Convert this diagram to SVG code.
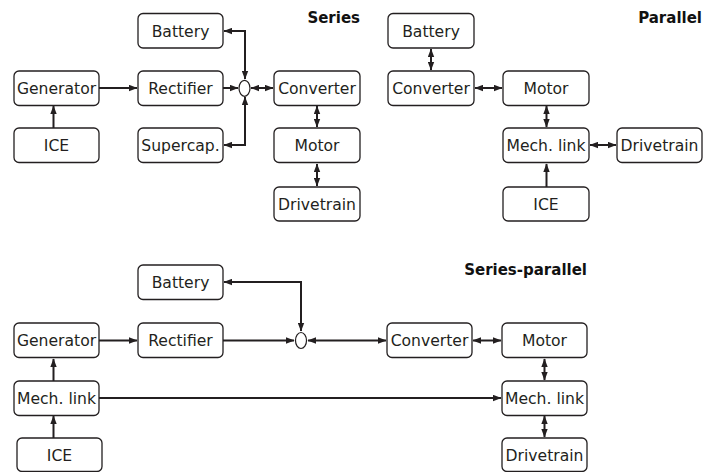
<svg xmlns="http://www.w3.org/2000/svg" width="703" height="472" viewBox="0 0 703 472">
<defs>
<marker id="ah" markerUnits="userSpaceOnUse" markerWidth="9" markerHeight="7" refX="8" refY="3.5" orient="auto-start-reverse" viewBox="0 0 9 7">
<path d="M0,0.3 L8.5,3.5 L0,6.7 z" fill="#231f20"/>
</marker>
<style>
.box{fill:#fff;stroke:#231f20;stroke-width:1.3}
.lbl{font-family:"DejaVu Sans",Verdana,sans-serif;font-size:15.6px;fill:#231f20;text-anchor:middle}
.ttl{font-family:"DejaVu Sans",Verdana,sans-serif;font-size:15px;font-weight:bold;fill:#111;text-anchor:end}
.c{fill:none;stroke:#231f20;stroke-width:2}
.one{marker-end:url(#ah)}
.two{marker-start:url(#ah);marker-end:url(#ah)}
.jn{fill:#fff;stroke:#231f20;stroke-width:1.2}
</style>
</defs>
<rect width="703" height="472" fill="#fff"/>

<text class="ttl" x="360" y="23">Series</text>
<text class="ttl" x="702" y="23">Parallel</text>
<text class="ttl" x="587" y="275">Series-parallel</text>

<g id="connectors">
<!-- Series -->
<path class="c one" d="M53.5,128 V106"/>
<path class="c one" d="M99,88 H137"/>
<path class="c one" d="M223,88 H238"/>
<path class="c two" d="M224,31 H245 V79"/>
<path class="c two" d="M224,145 H245 V97"/>
<path class="c two" d="M251,88 H273"/>
<path class="c two" d="M317,106 V127"/>
<path class="c two" d="M317,164 V186"/>
<!-- Parallel -->
<path class="c two" d="M431,49 V70"/>
<path class="c two" d="M475,88 H502"/>
<path class="c two" d="M546.5,106 V127"/>
<path class="c two" d="M590,145 H616"/>
<path class="c one" d="M546.5,187 V164"/>
<!-- Series-parallel -->
<path class="c two" d="M224,282 H301 V331"/>
<path class="c one" d="M99,340.5 H137"/>
<path class="c one" d="M223,340.5 H294"/>
<path class="c two" d="M308,340.5 H386"/>
<path class="c two" d="M473,340.5 H501"/>
<path class="c two" d="M544.5,359 V380"/>
<path class="c one" d="M99,398 H501"/>
<path class="c one" d="M53.5,381 V359"/>
<path class="c one" d="M53.5,438 V416"/>
<path class="c two" d="M544.5,416 V437"/>
</g>

<!-- Series nodes -->
<g id="s-battery"><rect class="box" x="138" y="13.5" width="85" height="34.5" rx="5"/><text class="lbl" x="180.5" y="36.5">Battery</text></g>
<g id="s-generator"><rect class="box" x="14" y="71" width="85" height="34.5" rx="5"/><text class="lbl" x="56.5" y="94">Generator</text></g>
<g id="s-rectifier"><rect class="box" x="138" y="71" width="85" height="34.5" rx="5"/><text class="lbl" x="180.5" y="94">Rectifier</text></g>
<g id="s-supercap"><rect class="box" x="138" y="128" width="85" height="34.5" rx="5"/><text class="lbl" x="180.5" y="151">Supercap.</text></g>
<g id="s-ice"><rect class="box" x="14" y="128" width="85" height="34.5" rx="5"/><text class="lbl" x="56.5" y="151">ICE</text></g>
<g id="s-junction"><ellipse class="jn" cx="244.5" cy="88.3" rx="5.5" ry="8"/></g>
<g id="s-converter"><rect class="box" x="274" y="71" width="86" height="34.5" rx="5"/><text class="lbl" x="317" y="94">Converter</text></g>
<g id="s-motor"><rect class="box" x="274" y="128" width="86" height="34.5" rx="5"/><text class="lbl" x="317" y="151">Motor</text></g>
<g id="s-drivetrain"><rect class="box" x="274" y="187" width="86" height="34" rx="5"/><text class="lbl" x="317" y="209.5">Drivetrain</text></g>

<!-- Parallel nodes -->
<g id="p-battery"><rect class="box" x="388" y="13.5" width="86" height="34.5" rx="5"/><text class="lbl" x="431" y="36.5">Battery</text></g>
<g id="p-converter"><rect class="box" x="388" y="71" width="86" height="34.5" rx="5"/><text class="lbl" x="431" y="94">Converter</text></g>
<g id="p-motor"><rect class="box" x="503" y="71" width="86" height="34.5" rx="5"/><text class="lbl" x="546" y="94">Motor</text></g>
<g id="p-mechlink"><rect class="box" x="503" y="128" width="86" height="34.5" rx="5"/><text class="lbl" x="546" y="151">Mech. link</text></g>
<g id="p-drivetrain"><rect class="box" x="617" y="128" width="85" height="34.5" rx="5"/><text class="lbl" x="659.5" y="151">Drivetrain</text></g>
<g id="p-ice"><rect class="box" x="503" y="187" width="86" height="34" rx="5"/><text class="lbl" x="546" y="209.5">ICE</text></g>

<!-- Series-parallel nodes -->
<g id="sp-battery"><rect class="box" x="138" y="265" width="85" height="34.5" rx="5"/><text class="lbl" x="180.5" y="288">Battery</text></g>
<g id="sp-generator"><rect class="box" x="14" y="323" width="85" height="34.5" rx="5"/><text class="lbl" x="56.5" y="346">Generator</text></g>
<g id="sp-rectifier"><rect class="box" x="138" y="323" width="85" height="34.5" rx="5"/><text class="lbl" x="180.5" y="346">Rectifier</text></g>
<g id="sp-junction"><ellipse class="jn" cx="301" cy="340.5" rx="5.5" ry="8"/></g>
<g id="sp-converter"><rect class="box" x="387" y="323" width="85" height="34.5" rx="5"/><text class="lbl" x="429.5" y="346">Converter</text></g>
<g id="sp-motor"><rect class="box" x="502" y="323" width="85" height="34.5" rx="5"/><text class="lbl" x="544.5" y="346">Motor</text></g>
<g id="sp-mechlink-left"><rect class="box" x="14" y="381" width="85" height="34.5" rx="5"/><text class="lbl" x="56.5" y="404">Mech. link</text></g>
<g id="sp-mechlink-right"><rect class="box" x="502" y="381" width="85" height="34.5" rx="5"/><text class="lbl" x="544.5" y="404">Mech. link</text></g>
<g id="sp-ice"><rect class="box" x="17" y="438" width="85" height="33.5" rx="5"/><text class="lbl" x="59.5" y="460.5">ICE</text></g>
<g id="sp-drivetrain"><rect class="box" x="502" y="438" width="85" height="33.5" rx="5"/><text class="lbl" x="544.5" y="460.5">Drivetrain</text></g>
</svg>
